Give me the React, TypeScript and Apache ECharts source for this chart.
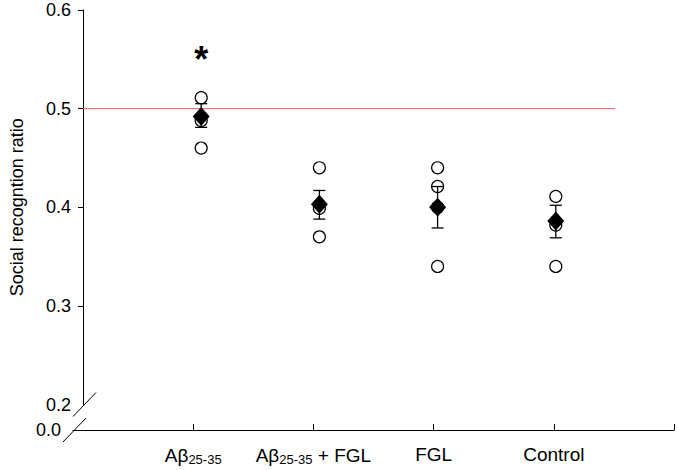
import React, { useEffect, useRef } from "react";
import * as echarts from "echarts";

const categories = ["Aβ25-35", "Aβ25-35 + FGL", "FGL", "Control"];
const categoryPositions = [1, 2, 3, 4];
const individualValues = [
  [0.511, 0.488, 0.46],
  [0.44, 0.399, 0.37],
  [0.44, 0.421, 0.4, 0.34],
  [0.411, 0.382, 0.34],
];
const meanValues = [0.492, 0.403, 0.4, 0.386];
const errorLow = [0.481, 0.388, 0.379, 0.369];
const errorHigh = [0.505, 0.417, 0.421, 0.402];
const referenceLine = [
  [0, 0.5],
  [4.5, 0.5],
];
const significance = [[1, 0.55]];
const yTicks = [0.3, 0.4, 0.5, 0.6];

const FONT = "'Liberation Sans', Arial, sans-serif";

function richLabel(v: number): string {
  const name = categories[v - 1];
  if (!name) return "";
  if (name.startsWith("Aβ25-35")) {
    const rest = name.slice("Aβ25-35".length);
    return "{n|Aβ}{s|25-35}" + (rest ? "{n|" + rest + "}" : "");
  }
  return "{n|" + name + "}";
}

export default function App() {
  const ref = useRef<HTMLDivElement>(null);
  useEffect(() => {
    document.body.style.margin = "0";
    if (!ref.current) return;
    const chart = echarts.init(ref.current, null, { renderer: "svg" });
    const scatterData: number[][] = [];
    individualValues.forEach((arr, i) =>
      arr.forEach((v) => scatterData.push([categoryPositions[i], v]))
    );
    const meanData = meanValues.map((m, i) => [categoryPositions[i], m]);
    const errData = meanValues.map((_, i) => [categoryPositions[i], errorLow[i], errorHigh[i]]);

    chart.setOption({
      animation: false,
      backgroundColor: "#ffffff",
      textStyle: { fontFamily: FONT },
      grid: [
        { left: 73, top: 10, width: 601, height: 394.5 },
        { left: 73, top: 429, width: 601, height: 1 },
      ],
      xAxis: [
        { gridIndex: 0, type: "value", min: 0, max: 5, show: false },
        {
          gridIndex: 1,
          type: "value",
          min: 0,
          max: 5,
          interval: 1,
          position: "bottom",
          axisLine: { show: true, lineStyle: { color: "#000", width: 1 } },
          axisTick: {
            show: true,
            inside: true,
            length: 6,
            lineStyle: { color: "#000" },
            customValues: [1, 2, 3, 4, 5],
          },
          splitLine: { show: false },
          axisLabel: {
            customValues: categoryPositions,
            margin: 15,
            color: "#000",
            formatter: (v: number) => richLabel(Math.round(v)),
            rich: {
              n: { fontSize: 19, color: "#000", fontFamily: FONT },
              s: { fontSize: 13, color: "#000", fontFamily: FONT, padding: [8, 0, 0, 0] },
            },
          },
        },
      ],
      yAxis: [
        {
          gridIndex: 0,
          type: "value",
          min: 0.2,
          max: 0.6,
          interval: 0.1,
          name: "Social recogntion ratio",
          nameLocation: "middle",
          nameRotate: 90,
          nameGap: 57,
          nameTextStyle: { fontSize: 18, color: "#000", fontFamily: FONT },
          axisLine: { show: true, lineStyle: { color: "#000", width: 1 } },
          axisTick: {
            show: true,
            length: 5,
            lineStyle: { color: "#000" },
            customValues: yTicks,
          },
          splitLine: { show: false },
          axisLabel: {
            fontSize: 18,
            color: "#000",
            margin: 12,
            formatter: (v: number) => v.toFixed(1),
          },
        },
        {
          gridIndex: 1,
          type: "value",
          min: 0,
          max: 1,
          interval: 1,
          axisLine: { show: false },
          axisTick: { show: false },
          splitLine: { show: false },
          axisLabel: {
            fontSize: 18,
            color: "#000",
            margin: 12,
            customValues: [0],
            formatter: (v: number) => (v === 0 ? "0.0" : ""),
          },
        },
      ],
      series: [
        {
          type: "line",
          xAxisIndex: 0,
          yAxisIndex: 0,
          data: referenceLine,
          symbol: "none",
          lineStyle: { color: "#f05a5a", width: 1 },
          z: 1,
        },
        {
          type: "scatter",
          xAxisIndex: 0,
          yAxisIndex: 0,
          data: scatterData,
          symbol: "circle",
          symbolSize: 12,
          itemStyle: { color: "#fff", borderColor: "#000", borderWidth: 1.2, opacity: 1 },
          z: 2,
        },
        {
          type: "custom",
          xAxisIndex: 0,
          yAxisIndex: 0,
          data: errData,
          encode: { x: 0, y: [1, 2] },
          z: 3,
          renderItem: (params: any, api: any) => {
            const x = api.value(0);
            const lo = api.coord([x, api.value(1)]);
            const hi = api.coord([x, api.value(2)]);
            const hw = 6;
            const style = { stroke: "#000", lineWidth: 1.3 };
            return {
              type: "group",
              children: [
                { type: "line", shape: { x1: lo[0], y1: lo[1], x2: hi[0], y2: hi[1] }, style },
                { type: "line", shape: { x1: hi[0] - hw, y1: hi[1], x2: hi[0] + hw, y2: hi[1] }, style },
                { type: "line", shape: { x1: lo[0] - hw, y1: lo[1], x2: lo[0] + hw, y2: lo[1] }, style },
              ],
            };
          },
        },
        {
          type: "scatter",
          xAxisIndex: 0,
          yAxisIndex: 0,
          data: meanData,
          symbol: "diamond",
          symbolSize: [17, 19],
          itemStyle: { color: "#000", opacity: 1 },
          z: 4,
        },
        {
          type: "scatter",
          xAxisIndex: 0,
          yAxisIndex: 0,
          data: significance,
          symbolSize: 0,
          itemStyle: { opacity: 1 },
          label: {
            show: true,
            position: "inside",
            formatter: "*",
            fontSize: 36,
            fontWeight: "bold",
            color: "#000",
            opacity: 1,
            fontFamily: FONT,
          },
          z: 5,
        },
      ],
    });

    const top = chart.convertToPixel({ xAxisIndex: 0, yAxisIndex: 0 }, [0, 0.2]) as number[];
    const bottom = chart.convertToPixel({ xAxisIndex: 1, yAxisIndex: 1 }, [0, 0]) as number[];
    const slash = (p: number[]) => ({
      type: "line",
      shape: { x1: p[0] - 10, y1: p[1] + 12, x2: p[0] + 13, y2: p[1] - 12 },
      style: { stroke: "#000", lineWidth: 1 },
    });
    chart.setOption({ graphic: [slash(top), slash(bottom)] });

    return () => chart.dispose();
  }, []);
  return <div ref={ref} style={{ width: 677, height: 470 }} />;
}
